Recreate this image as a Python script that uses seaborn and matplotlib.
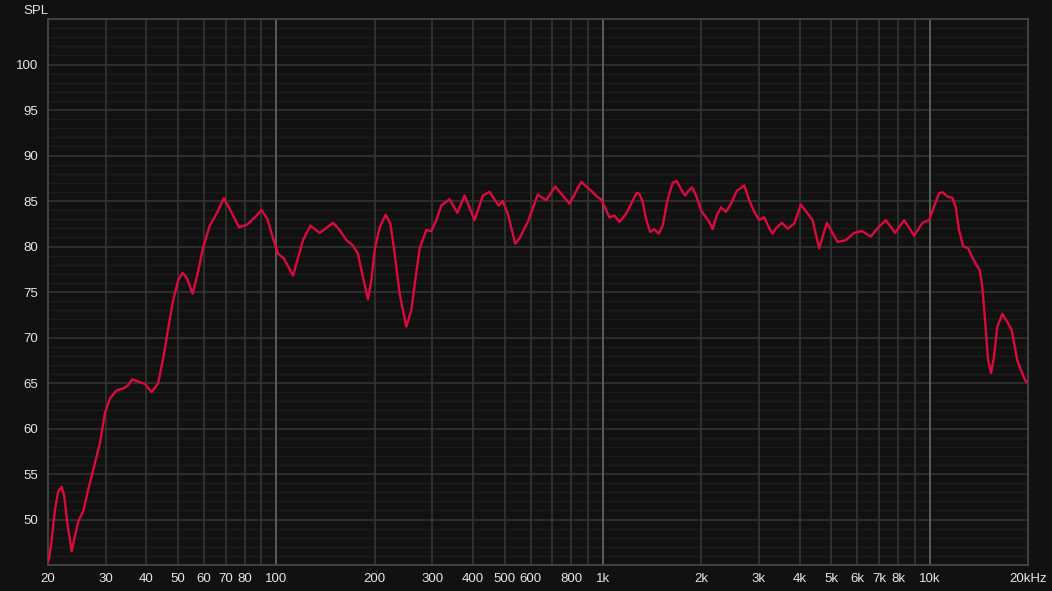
import numpy as np
import pandas as pd
import matplotlib
matplotlib.use("Agg")
import matplotlib.pyplot as plt
from matplotlib.ticker import FixedLocator, NullFormatter
import seaborn as sns

# ---- data ----
freq_hz = [
    20.0, 20.14, 20.53, 21.01, 21.5, 22.03, 22.43, 22.98, 23.63, 24.19, 24.76,
    25.64, 26.56, 27.85, 28.84, 29.88, 30.95, 32.45, 33.99, 35.06, 36.22,
    37.77, 39.6, 41.51, 43.48,
    45.27, 46.66, 48.33, 50.06, 51.64, 53.33, 55.42, 57.23, 59.70, 62.57,
    65.6, 69.08, 72.06, 76.9, 81.38, 85.93, 90.05, 93.69, 97.73, 101.2,
    105.4, 109.4,
    112.5, 120.7, 127.2, 135.8, 149.1,
    156.3, 163.9, 171.7, 177.8, 184.2, 190.8, 195.4, 200.0, 207.2, 216.1,
    223.4, 230.3, 238.5, 250.0, 259.0, 267.0, 274.6, 287.9, 298.2, 308.9,
    319.9, 339.2, 358.1, 377.0, 404.5, 428.8, 449.5, 478.9, 493.6, 511.3,
    538.6, 555.3, 568.2, 588.6, 631.5, 670.1, 714.0, 789.6, 857.5, 909.1,
    963.8, 987.1, 1046, 1084, 1123, 1177, 1268,
    1292, 1323, 1355, 1394, 1437, 1481, 1523, 1578, 1634, 1681, 1733, 1783,
    1825, 1874, 1927, 1996, 2068, 2116, 2166, 2228, 2298, 2380, 2466, 2565,
    2707, 2805, 2905, 3009, 3117, 3229, 3305, 3384,
    3530, 3673, 3849, 4035, 4278, 4379, 4590, 4845, 5223, 5540, 5872, 6200,
    6607, 6922, 7342, 7840, 8353, 8962, 9502, 9961,
    10687, 10939, 11331, 11737, 12022, 12303, 12654, 13135, 13512, 13839,
    14233, 14496, 14775, 15091, 15414, 15742, 16113, 16690, 17288, 17836,
    18545, 19127, 19680, 20000,
]
spl_db = [
    45.4, 45.6, 47.8, 51.1, 53.1, 53.6, 52.55, 49.3, 46.5, 48.2, 49.8,
    50.9, 53.3, 56.2, 58.4, 61.7, 63.3, 64.2, 64.4, 64.7, 65.4,
    65.15, 64.9, 64.0, 65.0,
    68.1, 71.0, 74.1, 76.3, 77.1, 76.5, 74.8, 76.8, 79.9, 82.3,
    83.6, 85.3, 84.1, 82.1, 82.4, 83.2, 84.0, 83.1, 80.9, 79.2,
    78.7, 77.6,
    76.8, 80.7, 82.3, 81.5, 82.6,
    81.8, 80.7, 80.1, 79.2, 76.6, 74.2, 76.3, 79.6, 82.1, 83.5,
    82.5, 79.2, 74.8, 71.2, 73.0, 76.6, 79.8, 81.8, 81.7, 82.9,
    84.5, 85.2, 83.7, 85.6, 82.9, 85.6, 86.0, 84.5, 85.0, 83.6,
    80.3, 80.9, 81.6, 82.7, 85.7, 85.1, 86.6, 84.7, 87.1, 86.3,
    85.4, 85.2, 83.2, 83.4, 82.7, 83.6, 85.9,
    85.8, 84.9, 83.0, 81.6, 81.9, 81.4, 82.3, 85.2, 87.0, 87.2, 86.3, 85.6,
    86.1, 86.5, 85.6, 83.95, 83.2, 82.7, 81.9, 83.4, 84.3, 83.8, 84.7, 86.1,
    86.7, 85.05, 83.8, 82.9, 83.2, 82.0, 81.4, 82.0,
    82.6, 81.95, 82.5, 84.6, 83.4, 82.9, 79.8, 82.6, 80.5, 80.7, 81.5, 81.7,
    81.1, 82.0, 82.9, 81.5, 82.9, 81.2, 82.6, 82.9,
    85.85, 85.96, 85.5, 85.35, 84.3, 81.8, 80.05, 79.8, 78.8, 78.1,
    77.4, 75.55, 71.9, 67.5, 66.1, 67.9, 71.2, 72.6, 71.7, 70.8,
    67.5, 66.2, 65.2, 65.1,
]

x_tick_values = [20, 30, 40, 50, 60, 70, 80, 100, 200, 300, 400, 500, 600, 800,
                 1000, 2000, 3000, 4000, 5000, 6000, 7000, 8000, 10000, 20000]
x_tick_labels = ["20", "30", "40", "50", "60", "70", "80", "100", "200", "300",
                 "400", "500", "600", "800", "1k", "2k", "3k", "4k", "5k", "6k",
                 "7k", "8k", "10k", "20kHz"]
x_grid_minor = [30, 40, 50, 60, 70, 80, 90, 200, 300, 400, 500, 600, 700, 800,
                900, 2000, 3000, 4000, 5000, 6000, 7000, 8000, 9000]
x_grid_major = [100, 1000, 10000]
y_tick_values = [50, 55, 60, 65, 70, 75, 80, 85, 90, 95, 100]

df = pd.DataFrame({"freq": freq_hz, "spl": spl_db})

# ---- style ----
bg = "#111111"
sns.set_theme(style="dark", rc={
    "figure.facecolor": bg,
    "axes.facecolor": bg,
    "axes.edgecolor": "#4a4a4a",
    "text.color": "#e6e6e6",
    "xtick.color": "#e6e6e6",
    "ytick.color": "#e6e6e6",
})
plt.rcParams["font.family"] = ["Liberation Sans", "DejaVu Sans"]

fig = plt.figure(figsize=(10.52, 5.91), dpi=100)
ax = fig.add_axes([48 / 1052, 1 - 565 / 591, (1028 - 48) / 1052, (565 - 19) / 591])

ax.set_xscale("log")
ax.set_xlim(20, 20000)
ax.set_ylim(45, 105)

# grid lines
for yv in range(46, 105):
    if yv % 5 == 0:
        ax.axhline(yv, color="#333333", lw=1.2, zorder=1)
    else:
        ax.axhline(yv, color="#1c1c1c", lw=1.0, zorder=0.9)
for xv in x_grid_minor:
    ax.axvline(xv, color="#343434", lw=1.2, zorder=1)
for xv in x_grid_major:
    ax.axvline(xv, color="#5c5c5c", lw=1.4, zorder=1.1)

sns.lineplot(data=df, x="freq", y="spl", ax=ax, color="#dc0a3c", lw=1.7,
             zorder=3, sort=False, solid_joinstyle="round",
             solid_capstyle="round")

ax.xaxis.set_major_locator(FixedLocator(x_tick_values))
ax.xaxis.set_minor_locator(FixedLocator([]))
ax.set_xticklabels(x_tick_labels)
ax.xaxis.set_minor_formatter(NullFormatter())
ax.set_yticks(y_tick_values)
ax.set_yticklabels([str(v) for v in y_tick_values])
ax.tick_params(axis="both", length=0, labelsize=9.5)
ax.tick_params(axis="x", pad=6)
ax.tick_params(axis="y", pad=7)
ax.set_xlabel("")
ax.set_ylabel("")
ax.grid(False)
for s in ax.spines.values():
    s.set_visible(True)
    s.set_color("#4a4a4a")
    s.set_linewidth(1.2)

fig.text(23 / 1052, 1 - 11 / 591, "SPL", fontsize=9.5, color="#e6e6e6",
         va="center", ha="left")

fig.savefig("out.png", dpi=100, facecolor=bg)
